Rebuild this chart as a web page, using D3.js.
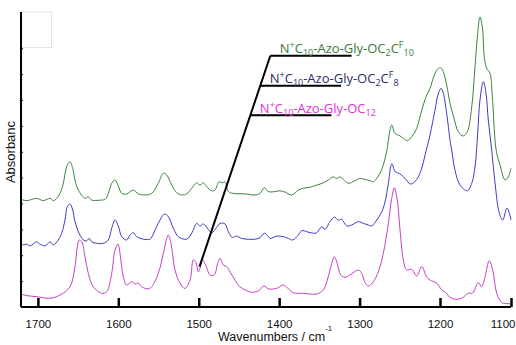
<!DOCTYPE html>
<html><head><meta charset="utf-8">
<script src="https://cdn.jsdelivr.net/npm/d3@7"></script>
<style>html,body{margin:0;padding:0;background:#fff;}svg{display:block;}</style>
</head><body>
<svg id="c" width="516" height="345"></svg>
<script>
// ---- data (wavenumber cm^-1, absorbance a.u. with vertical offsets) ----
const xTicks = [1700, 1600, 1500, 1400, 1300, 1200, 1100];
const yTicks = [1, 2, 3, 4, 5, 6, 7, 8, 9, 10];
const xTitle = "Wavenumbers / cm";
const yTitle = "Absorbanc";

const seriesNames = [
  ["N","+","C","10","-Azo-Gly-OC","2","C","F","10"],
  ["N","+","C","10","-Azo-Gly-OC","2","C","F","8"],
  ["N","+","C","10","-Azo-Gly-OC","12"]
];
const seriesColors = ["#3d833d", "#3c3cc8", "#c63ec6"];
const labelColors = ["#3a7a3a", "#2b2b66", "#e030d4"];

const greenSpec = [
 [1721,4.16],[1713.9,4.11],[1701.5,4.20],[1693.3,4.11],[1684.9,4.20],[1680.8,4.11],[1676.6,4.20],
 [1672.5,4.39],[1668.4,4.78],[1664.2,5.42],[1660.1,5.61],[1656.7,5.36],[1653.9,4.91],[1649.7,4.52],
 [1641.4,4.20],[1637.3,4.26],[1633.1,4.13],[1622.8,4.13],[1616.5,4.16],[1612.4,4.39],[1608.2,4.78],
 [1604.1,4.91],[1600.0,4.68],[1595.8,4.39],[1589.6,4.37],[1581.3,4.52],[1575.1,4.37],[1566.8,4.33],
 [1558.5,4.39],[1550.3,4.78],[1544.0,5.17],[1539.8,5.10],[1533.6,4.71],[1527.4,4.42],[1521.2,4.33],
 [1515.0,4.37],[1508.8,4.59],[1502.5,4.80],[1498.4,4.71],[1494.3,4.80],[1490.1,4.65],[1483.9,4.49],
 [1479.8,4.52],[1474.8,4.84],[1470.7,4.80],[1467.3,4.84],[1463.2,4.46],[1457.0,4.39],[1442.4,4.37],
 [1430.0,4.33],[1423.8,4.39],[1418.4,4.61],[1413.4,4.46],[1405.1,4.46],[1398.9,4.49],[1392.7,4.44],
 [1384.4,4.33],[1376.2,4.52],[1370.0,4.59],[1361.6,4.63],[1353.3,4.71],[1345.1,4.80],[1338.9,4.91],
 [1332.6,5.03],[1328.4,4.97],[1324.3,5.03],[1320.2,4.93],[1314.0,4.78],[1305.7,4.88],[1299.5,4.97],
 [1293.2,4.93],[1287.0,4.88],[1282.9,4.84],[1278.7,4.97],[1274.6,5.17],[1270.5,5.49],[1266.2,6.03],
 [1262.1,6.84],[1260.0,7.03],[1255.9,6.71],[1249.7,6.61],[1245.6,6.52],[1240.6,6.43],[1235.2,6.58],
 [1229.0,6.90],[1222.7,7.61],[1216.5,8.19],[1212.4,8.45],[1207.1,8.96],[1202.1,9.22],[1199.0,9.25],
 [1195.3,9.09],[1190.6,8.58],[1185.9,7.87],[1180.3,7.29],[1174.2,6.77],[1167.2,6.61],[1161.5,6.77],
 [1155.3,7.74],[1150.7,9.29],[1146.9,10.58],[1143.7,11.21],[1140.4,10.83],[1137.6,9.67],[1134.2,9.22],
 [1129.6,9.03],[1126.3,8.13],[1122.5,6.45],[1120.1,5.94],[1115.5,5.49],[1108.4,4.91],[1103.8,5.03],
 [1100,5.36]
];

const blueSpec = [
 [1721,2.46],[1718.1,2.40],[1713.9,2.43],[1709.8,2.36],[1701.5,2.52],[1697.4,2.43],[1691.1,2.36],
 [1684.9,2.52],[1680.8,2.40],[1674.6,2.59],[1670.4,2.85],[1666.3,3.36],[1663.4,3.88],[1660.1,3.98],
 [1656.7,3.75],[1653.9,3.30],[1649.7,2.91],[1643.5,2.59],[1639.3,2.56],[1636.4,2.65],[1633.1,2.52],
 [1626.9,2.46],[1618.7,2.46],[1612.4,2.59],[1608.2,3.04],[1604.1,3.36],[1600.0,3.13],[1595.8,2.72],
 [1589.6,2.59],[1585.5,2.78],[1581.3,2.87],[1577.2,2.72],[1568.9,2.62],[1560.7,2.62],[1558.5,2.70],
 [1550.3,3.23],[1542.8,3.59],[1537.8,3.49],[1531.6,3.04],[1525.4,2.72],[1515.0,2.62],[1508.8,2.85],
 [1502.5,3.23],[1498.4,3.13],[1494.3,3.21],[1488.1,3.00],[1483.9,2.87],[1477.6,3.08],[1473.5,3.23],
 [1467.3,3.21],[1463.2,2.91],[1458.2,2.69],[1452.8,2.74],[1446.5,2.65],[1430.0,2.62],[1423.8,2.68],
 [1418.4,2.85],[1413.4,2.72],[1411.4,2.65],[1403.0,2.74],[1394.8,2.72],[1388.6,2.65],[1383.1,2.59],
 [1376.2,2.78],[1371.9,2.95],[1365.7,2.91],[1357.5,2.85],[1353.3,2.87],[1347.1,3.10],[1343.0,3.00],
 [1336.8,3.30],[1331.4,3.47],[1326.4,3.36],[1322.2,3.39],[1316.0,3.13],[1309.8,3.17],[1301.5,3.30],
 [1295.3,3.23],[1289.1,3.17],[1284.9,3.13],[1278.7,3.36],[1272.4,3.68],[1268.3,4.07],[1264.2,4.78],
 [1261.3,5.42],[1259.7,5.54],[1255.9,5.23],[1251.8,5.17],[1249.7,5.14],[1243.5,4.97],[1236.4,4.75],
 [1229.0,4.93],[1222.7,5.36],[1218.6,5.87],[1212.4,6.65],[1206.2,7.61],[1202.5,8.19],[1198.6,8.45],
 [1195.3,8.26],[1190.6,7.48],[1185.9,6.45],[1183.1,5.99],[1178.9,5.29],[1171.8,4.71],[1161.5,4.49],
 [1155.3,4.78],[1150.7,5.42],[1146.9,6.71],[1143.7,8.00],[1139.0,8.71],[1135.2,8.26],[1132.0,7.23],
 [1127.2,6.07],[1122.5,4.79],[1116.5,3.63],[1111.7,3.36],[1105.6,3.83],[1100,3.36]
];

const magentaSpec = [
 [1721,0.50],[1713.9,0.44],[1701.5,0.40],[1684.9,0.34],[1672.5,0.46],[1660.1,0.78],[1653.9,1.56],
 [1651.0,2.33],[1648.5,2.59],[1645.5,2.52],[1641.4,1.94],[1637.3,1.30],[1631.1,0.78],[1620.6,0.53],
 [1614.4,0.59],[1608.2,1.30],[1604.1,2.20],[1600.4,2.43],[1597.9,2.07],[1593.8,1.17],[1589.6,0.85],
 [1583.3,0.98],[1579.3,0.89],[1575.1,0.92],[1570.9,0.78],[1562.7,0.70],[1558.5,0.78],[1550.3,1.30],
 [1544.0,2.07],[1539.8,2.65],[1537.8,2.78],[1534.5,2.46],[1529.5,1.43],[1523.3,0.92],[1517.1,0.72],
 [1510.8,1.04],[1506.7,1.82],[1503.7,1.75],[1500.5,1.36],[1498.4,1.50],[1495.6,1.84],[1491.3,1.62],
 [1486.0,1.24],[1480.7,1.24],[1476.4,1.69],[1473.5,1.88],[1469.4,1.62],[1465.2,1.56],[1461.1,1.36],
 [1454.9,1.04],[1448.8,0.78],[1442.4,0.66],[1434.1,0.57],[1425.9,0.62],[1418.8,0.81],[1413.4,0.70],
 [1403.0,0.72],[1394.8,0.85],[1388.6,0.71],[1382.4,0.55],[1370.0,0.53],[1353.3,0.50],[1345.1,0.66],
 [1338.9,1.17],[1334.6,1.69],[1331.4,1.94],[1328.4,1.75],[1323.5,1.24],[1318.1,1.15],[1311.9,1.24],
 [1301.5,1.43],[1297.3,1.30],[1293.2,0.94],[1289.1,0.81],[1282.9,0.98],[1276.7,1.36],[1270.5,2.07],
 [1264.2,3.23],[1260.0,4.20],[1256.8,4.61],[1253.1,4.13],[1249.7,2.98],[1245.6,1.82],[1241.4,1.43],
 [1235.2,1.46],[1229.0,1.20],[1222.7,1.56],[1216.5,1.15],[1212.4,1.04],[1204.1,0.92],[1197.6,0.66],
 [1190.6,0.53],[1188.3,0.43],[1178.9,0.30],[1169.4,0.34],[1160.1,0.53],[1154.0,0.54],[1146.1,0.94],
 [1141.3,0.78],[1136.6,1.17],[1130.6,1.79],[1125.8,1.43],[1120.1,0.53],[1113.1,0.17],[1108.4,0.14],
 [1100,0.12]
];

// annotation leader (data space)
const leaderTip = [1499, 1.56];
const leaderTop = [1411, 9.71];
const labelLevels = [9.71, 8.55, 7.41];
const labelLineEnds = [1310, 1323, 1335];

// ---- drawing ----
const svg = d3.select("#c");
const x = d3.scaleLinear().domain([1721, 1200, 1100]).range([21, 440, 511]);
const y = d3.scaleLinear().domain([0, 11.4]).range([307, 12]);

// faint box top-left
svg.append("rect").attr("x", x(1721)).attr("y", y(11.4)).attr("width", 30.5).attr("height", 35.5)
  .attr("fill", "none").attr("stroke", "#e2e2e2").attr("stroke-width", 1);

const line = d3.line().x(d => x(d[0])).y(d => y(d[1])).curve(d3.curveCatmullRom.alpha(0.5));
[greenSpec, blueSpec, magentaSpec].forEach((s, i) => {
  svg.append("path").datum(s).attr("d", line).attr("fill", "none")
    .attr("stroke", seriesColors[i]).attr("stroke-width", 1);
});

// axes
const font = "'Liberation Sans', Arial, sans-serif";
const gx = svg.append("g").attr("transform", `translate(0,${y(0)})`)
  .call(d3.axisBottom(x).tickValues(xTicks).tickSize(-9).tickPadding(13).tickFormat(d3.format("d")));
gx.select(".domain").attr("stroke", "#000").attr("stroke-width", 2).attr("d", `M${x(1721)},0H${x(1100)}`);
gx.selectAll(".tick line").attr("stroke", "#000").attr("stroke-width", 2.5);
gx.selectAll(".tick text").attr("font-family", font).attr("font-size", 11.5).attr("fill", "#111");
gx.selectAll(".tick text").filter(d => d === 1100).attr("text-anchor", "end").attr("dx", 4);

const gy = svg.append("g").attr("transform", `translate(${x(1721)},0)`)
  .call(d3.axisLeft(y).tickValues(yTicks).tickSize(-2).tickFormat(""));
gy.select(".domain").attr("stroke", "#000").attr("stroke-width", 2).attr("d", `M0,${y(11.4)}V${y(0)}`);
gy.selectAll(".tick line").attr("stroke", "#000").attr("stroke-width", 1);

// axis titles
const xt = svg.append("text").attr("x", 218).attr("y", 341).attr("font-family", font)
  .attr("font-size", 12.5).attr("fill", "#111").text(xTitle);
xt.append("tspan").attr("font-size", 8).attr("dy", -10).text("-1");
svg.append("text").attr("transform", "translate(15,152) rotate(-90)").attr("text-anchor", "middle")
  .attr("font-family", font).attr("font-size", 13).attr("fill", "#111").text(yTitle);

// leader lines
svg.append("line").attr("x1", x(leaderTip[0])).attr("y1", y(leaderTip[1]))
  .attr("x2", x(leaderTop[0])).attr("y2", y(leaderTop[1])).attr("stroke", "#000").attr("stroke-width", 2);
const lfont = "'Open Sans', 'Noto Sans', sans-serif";
labelLevels.forEach((lv, i) => {
  const t = (lv - leaderTip[1]) / (leaderTop[1] - leaderTip[1]);
  const px0 = x(leaderTip[0]) + t * (x(leaderTop[0]) - x(leaderTip[0]));
  svg.append("line").attr("x1", px0).attr("x2", x(labelLineEnds[i])).attr("y1", y(lv)).attr("y2", y(lv))
    .attr("stroke", "#000").attr("stroke-width", 2);
  const txt = svg.append("text").attr("x", px0 + 9.5).attr("y", y(lv) - 2.5)
    .attr("font-family", lfont).attr("font-size", 13).attr("fill", labelColors[i]);
  const parts = seriesNames[i];
  const roles = i < 2 ? ["m","sup","m","sub","m","sub","m","sup","sub"] : ["m","sup","m","sub","m","sub"];
  let shift = 0;
  parts.forEach((p, k) => {
    const r = roles[k];
    const target = r === "sup" ? -5 : r === "sub" ? 3 : 0;
    txt.append("tspan").attr("dy", target - shift).attr("font-size", r === "m" ? 13 : 9).text(p);
    shift = target;
  });
});
</script>
</body></html>
